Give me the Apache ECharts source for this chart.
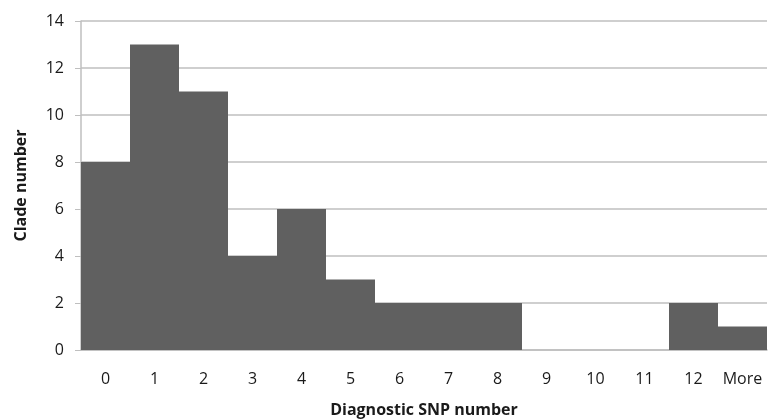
<!DOCTYPE html>
<html><head><meta charset="utf-8">
<script src="https://cdn.jsdelivr.net/npm/echarts@6/dist/echarts.min.js"></script>
<style>html,body{margin:0;padding:0;background:#fff}#c{width:768px;height:419px}</style>
</head><body><div id="c"></div>
<script>
var categories = ['0','1','2','3','4','5','6','7','8','9','10','11','12','More'];
var cladeCounts = [8,13,11,4,6,3,2,2,2,0,0,0,2,1];
var yTicks = {min:0, max:14, interval:2};

var chart = echarts.init(document.getElementById('c'));
chart.setOption({
  animation:false,
  grid:{left:81,right:1,top:21,bottom:69,outerBoundsMode:'none',containLabel:false},
  xAxis:{type:'category',data:categories,
    axisLine:{lineStyle:{color:'#bfbfbf',width:1.5}},
    axisTick:{show:false},
    axisLabel:{color:'#1a1a1a',fontSize:16,fontFamily:'Open Sans',margin:21,interval:0,hideOverlap:false},
    name:'Diagnostic SNP number',nameLocation:'middle',nameGap:52,
    nameTextStyle:{color:'#1a1a1a',fontSize:16,fontWeight:'bold',fontFamily:'Open Sans'}},
  yAxis:{type:'value',min:yTicks.min,max:yTicks.max,interval:yTicks.interval,
    axisLine:{show:true,lineStyle:{color:'#bfbfbf',width:1.5}},
    axisTick:{show:true,length:6,lineStyle:{color:'#bfbfbf'}},
    splitLine:{lineStyle:{color:'#bfbfbf',width:1.5}},
    axisLabel:{color:'#1a1a1a',fontSize:16,fontFamily:'Open Sans',margin:17},
    name:'Clade number',nameLocation:'middle',nameGap:52,
    nameTextStyle:{color:'#1a1a1a',fontSize:16,fontWeight:'bold',fontFamily:'Open Sans'}},
  series:[{type:'bar',data:cladeCounts,barWidth:'100%',barCategoryGap:0,
    itemStyle:{color:'#606060'}}]
});
</script></body></html>
